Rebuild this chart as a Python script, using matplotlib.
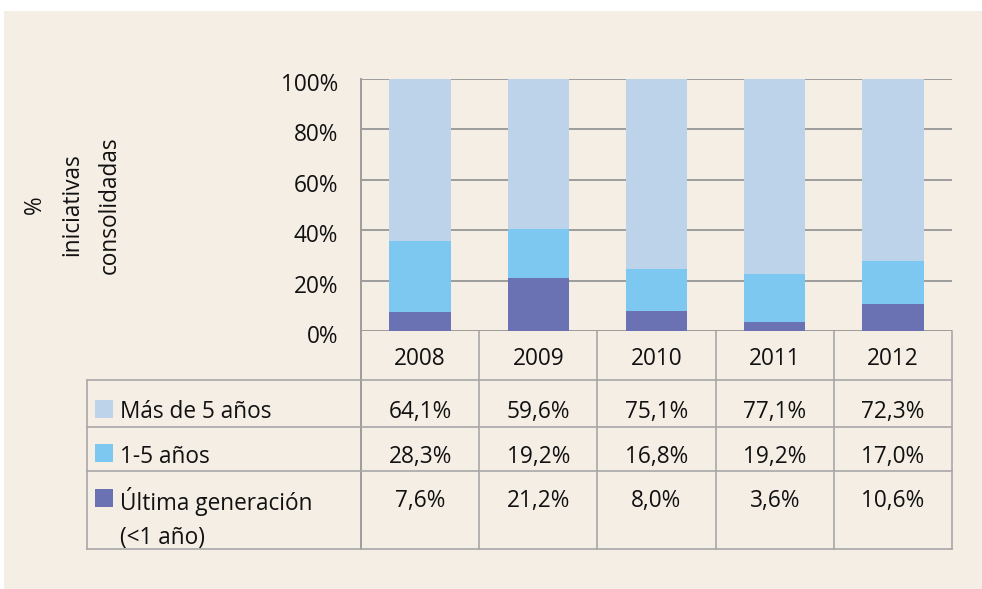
import numpy as np
import matplotlib

matplotlib.use("Agg")
import matplotlib.pyplot as plt
from matplotlib.transforms import ScaledTranslation, blended_transform_factory

# ---- palette ---------------------------------------------------------------
PANEL = "#f4eee5"
INK = "#111111"
GRID = "#9c9c9c"
RULE = "#a8a8a8"
C_OLD = "#bcd3ea"
C_MID = "#7cc8f0"
C_NEW = "#6a72b4"
FS = 16.3

plt.rcParams.update({
    "font.family": ["Open Sans", "DejaVu Sans"],
    "font.size": FS,
    "text.color": INK,
})

# ---- data ------------------------------------------------------------------
years = ["2008", "2009", "2010", "2011", "2012"]
mas_5 = [64.1, 59.6, 75.1, 77.1, 72.3]
uno_5 = [28.3, 19.2, 16.8, 19.2, 17.0]
ultima = [7.6, 21.2, 8.0, 3.6, 10.6]
series = [
    ("Más de 5 años", mas_5, C_OLD),
    ("1-5 años", uno_5, C_MID),
    ("Última generación\n(<1 año)", ultima, C_NEW),
]
yticks = [0, 20, 40, 60, 80, 100]


def pct(v):
    return f"{v:.1f}".replace(".", ",") + "%"


W, H = 982, 589
fig = plt.figure(figsize=(W / 100, H / 100), dpi=100)
fig.patch.set_facecolor("white")

# overlay in pixel coordinates for panel + table
ov = fig.add_axes([0, 0, 1, 1])
ov.set_xlim(0, W)
ov.set_ylim(H, 0)
ov.axis("off")
ov.add_patch(plt.Rectangle((4, 11), W - 4, H - 11, color=PANEL, lw=0, zorder=0))

# ---- chart -----------------------------------------------------------------
L, R, T, B = 361, 952, 79, 331
ax = fig.add_axes([L / W, 1 - B / H, (R - L) / W, (B - T) / H])
ax.set_facecolor("none")
x = np.arange(len(years))
bottom = np.zeros(len(years))
for name, vals, col in reversed(series):
    ax.bar(x, vals, width=0.52, bottom=bottom, color=col, zorder=3)
    bottom += np.array(vals)
ax.set_xlim(-0.5, len(years) - 0.5)
ax.set_ylim(0, 100)
ax.set_xticks([])
ax.set_yticks([])
for s in ("top", "right", "bottom", "left"):
    ax.spines[s].set_visible(False)

# y tick labels, sitting a little below their gridlines as in the original
tick_tr = blended_transform_factory(ax.transAxes, ax.transData) + \
    ScaledTranslation(-23 / 100, -6 / 100, fig.dpi_scale_trans)
for t in yticks:
    ax.axhline(t, color=GRID, lw=1.4, zorder=1)
    ax.text(0, t, f"{t}%", transform=tick_tr, ha="right", va="center",
            fontsize=FS, clip_on=False)

# y-axis label (three lines, rotated)
for xp, txt in [(35, "%"), (72, "iniciativas"), (110, "consolidadas")]:
    ov.text(xp, 205, txt, rotation=90, ha="center", va="center", fontsize=FS)

# ---- table -----------------------------------------------------------------
cw = (R - L) / len(years)
cx = [L + (i + 0.5) * cw for i in range(len(years))]
TL = 87
rows_y = [380, 427, 471, 549]

ov.plot([L, L], [T, 549], color=GRID, lw=1.4, zorder=2)
for yy in rows_y:
    ov.plot([TL, R], [yy, yy], color=RULE, lw=1.2, zorder=2)
ov.plot([TL, TL], [380, 549], color=RULE, lw=1.2, zorder=2)
for i in range(1, len(years) + 1):
    ov.plot([L + i * cw] * 2, [B, 549], color=RULE, lw=1.2, zorder=2)

for i, yr in enumerate(years):
    ov.text(cx[i], 359, yr, ha="center", va="center", fontsize=FS)

row_text_y = [412, 457, 501]
sq_y = [400, 444, 489]
for (name, vals, col), ty, sy in zip(series, row_text_y, sq_y):
    ov.add_patch(plt.Rectangle((95, sy), 18, 18, color=col, lw=0, zorder=3))
    lines = name.split("\n")
    for k, ln in enumerate(lines):
        ov.text(120, ty + k * 37, ln, ha="left", va="center", fontsize=FS)
    for i, v in enumerate(vals):
        ov.text(cx[i], ty, pct(v), ha="center", va="center", fontsize=FS)

fig.savefig("out.png", dpi=100, facecolor=fig.get_facecolor())
